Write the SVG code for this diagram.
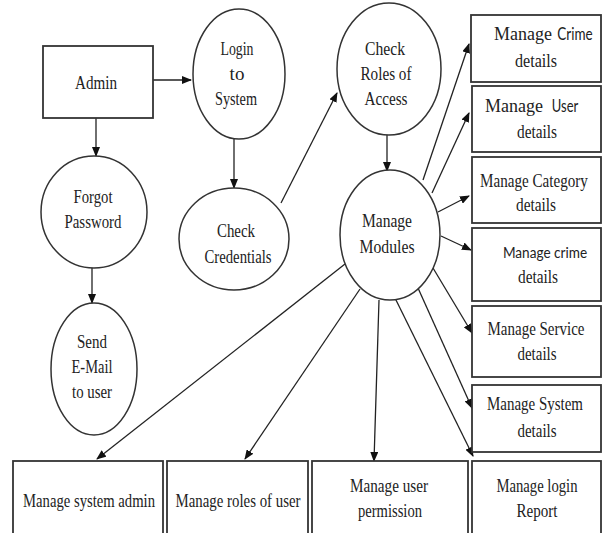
<svg xmlns="http://www.w3.org/2000/svg" width="603" height="533" viewBox="0 0 603 533">
<style>
.box{fill:#fff;stroke:#333;stroke-width:1.8}
.ell{fill:#fff;stroke:#333;stroke-width:1.5}
.t{font-family:"Liberation Serif","Times New Roman",serif;font-size:19px;fill:#222;text-anchor:middle}
.s{font-family:Lato,"Liberation Sans",sans-serif;font-size:18px;fill:#222;text-anchor:middle}
.s2{font-family:Lato,"Liberation Sans",sans-serif;font-size:16px;fill:#222;text-anchor:middle}
.c line{stroke:#222;stroke-width:1.3;marker-end:url(#ah)}
</style>
<defs>
<marker id="ah" markerUnits="userSpaceOnUse" markerWidth="10" markerHeight="8" refX="9" refY="4" orient="auto">
<path d="M0,0 L10,4 L0,8 Z" fill="#111"/>
</marker>
</defs>
<rect width="603" height="533" fill="#fff"/>
<g class="c" id="connectors">
<line x1="153" y1="80" x2="191" y2="80"/>
<line x1="96" y1="118" x2="96" y2="156"/>
<line x1="234" y1="139" x2="234" y2="188"/>
<line x1="92" y1="268" x2="92" y2="303"/>
<line x1="281" y1="203" x2="337" y2="93"/>
<line x1="387" y1="135" x2="387" y2="171"/>
<line x1="423" y1="180" x2="469" y2="44"/>
<line x1="432" y1="193" x2="469" y2="113"/>
<line x1="438" y1="212" x2="469" y2="196"/>
<line x1="441" y1="236" x2="471" y2="250"/>
<line x1="433" y1="268" x2="472" y2="333"/>
<line x1="418" y1="288" x2="472" y2="408"/>
<line x1="395" y1="298" x2="473" y2="456"/>
<line x1="379" y1="300" x2="374" y2="461"/>
<line x1="360" y1="289" x2="245" y2="459"/>
<line x1="345" y1="264" x2="97" y2="459"/>
</g>
<g id="admin"><rect class="box" x="43" y="46" width="110" height="72"/><text class="t" x="96" y="89" textLength="42" lengthAdjust="spacingAndGlyphs">Admin</text></g>
<g id="login"><ellipse class="ell" cx="239" cy="74" rx="46" ry="65"/>
<text class="t" x="237" y="55" textLength="33" lengthAdjust="spacingAndGlyphs">Login</text>
<text class="t" x="237" y="80">to</text>
<text class="t" x="236" y="105" textLength="42" lengthAdjust="spacingAndGlyphs">System</text></g>
<g id="forgot"><ellipse class="ell" cx="94" cy="212" rx="53" ry="56"/>
<text class="t" x="93" y="203" textLength="39" lengthAdjust="spacingAndGlyphs">Forgot</text>
<text class="t" x="93" y="228" textLength="57" lengthAdjust="spacingAndGlyphs">Password</text></g>
<g id="credentials"><ellipse class="ell" cx="234" cy="239" rx="55" ry="51"/>
<text class="t" x="236" y="237" textLength="38" lengthAdjust="spacingAndGlyphs">Check</text>
<text class="t" x="238" y="263" textLength="67" lengthAdjust="spacingAndGlyphs">Credentials</text></g>
<g id="sendmail"><ellipse class="ell" cx="94" cy="369" rx="43" ry="66"/>
<text class="t" x="92" y="348" textLength="30" lengthAdjust="spacingAndGlyphs">Send</text>
<text class="t" x="92" y="373" textLength="41" lengthAdjust="spacingAndGlyphs">E-Mail</text>
<text class="t" x="92" y="398" textLength="40" lengthAdjust="spacingAndGlyphs">to user</text></g>
<g id="roles"><ellipse class="ell" cx="389" cy="69" rx="52" ry="66"/>
<text class="t" x="385" y="55" textLength="40" lengthAdjust="spacingAndGlyphs">Check</text>
<text class="t" x="386" y="80" textLength="51" lengthAdjust="spacingAndGlyphs">Roles of</text>
<text class="t" x="386" y="105" textLength="43" lengthAdjust="spacingAndGlyphs">Access</text></g>
<g id="modules"><ellipse class="ell" cx="390" cy="235" rx="50" ry="65"/>
<text class="t" x="387" y="227" textLength="50" lengthAdjust="spacingAndGlyphs">Manage</text>
<text class="t" x="387" y="253" textLength="55" lengthAdjust="spacingAndGlyphs">Modules</text></g>
<g id="crime1"><rect class="box" x="471" y="15" width="130" height="67"/>
<text class="t" x="523" y="40" textLength="58" lengthAdjust="spacingAndGlyphs">Manage</text>
<text class="s" transform="translate(575,40) scale(0.75,1)">Crime</text>
<text class="t" x="536" y="67" textLength="42" lengthAdjust="spacingAndGlyphs">details</text></g>
<g id="user"><rect class="box" x="472" y="86" width="129" height="66"/>
<text class="t" x="514" y="112" textLength="58" lengthAdjust="spacingAndGlyphs">Manage</text>
<text class="s" transform="translate(565,112) scale(0.72,1)">User</text>
<text class="t" x="537" y="138" textLength="40" lengthAdjust="spacingAndGlyphs">details</text></g>
<g id="category"><rect class="box" x="472" y="157" width="129" height="66"/>
<text class="t" transform="translate(534,187) scale(0.796,1)">Manage Category</text>
<text class="t" x="536" y="211" textLength="40" lengthAdjust="spacingAndGlyphs">details</text></g>
<g id="crime2"><rect class="box" x="472" y="228" width="129" height="73"/>
<text class="s2" transform="translate(545,258) scale(0.85,1)">Manage crime</text>
<text class="t" x="538" y="283" textLength="40" lengthAdjust="spacingAndGlyphs">details</text></g>
<g id="service"><rect class="box" x="472" y="306" width="129" height="71"/>
<text class="t" transform="translate(536,335) scale(0.789,1)">Manage Service</text>
<text class="t" x="537" y="360" textLength="39" lengthAdjust="spacingAndGlyphs">details</text></g>
<g id="system"><rect class="box" x="472" y="385" width="129" height="67"/>
<text class="t" transform="translate(535,410) scale(0.788,1)">Manage System</text>
<text class="t" x="537" y="437" textLength="39" lengthAdjust="spacingAndGlyphs">details</text></g>
<g id="sysadmin"><rect class="box" x="13" y="461" width="150" height="80"/>
<text class="t" transform="translate(89,507) scale(0.772,1)">Manage system admin</text></g>
<g id="rolesuser"><rect class="box" x="167" y="461" width="141" height="80"/>
<text class="t" transform="translate(238,507) scale(0.782,1)">Manage roles of user</text></g>
<g id="permission"><rect class="box" x="312" y="461" width="156" height="80"/>
<text class="t" x="389" y="492" textLength="78" lengthAdjust="spacingAndGlyphs">Manage user</text>
<text class="t" x="390" y="517" textLength="64" lengthAdjust="spacingAndGlyphs">permission</text></g>
<g id="loginreport"><rect class="box" x="472" y="461" width="129" height="80"/>
<text class="t" x="537" y="492" textLength="81" lengthAdjust="spacingAndGlyphs">Manage login</text>
<text class="t" x="537" y="517" textLength="41" lengthAdjust="spacingAndGlyphs">Report</text></g>
</svg>
